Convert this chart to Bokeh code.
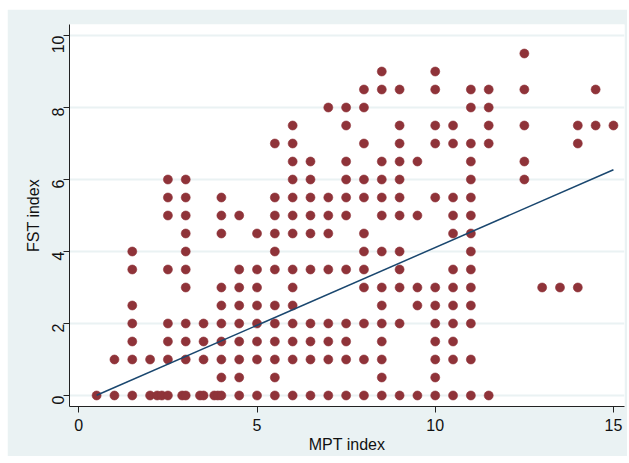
import math
from bokeh.plotting import figure
from bokeh.models import Range1d, FixedTicker, ColumnDataSource
from bokeh.embed import file_html
from bokeh.resources import INLINE

# ---- data ----
mpt = (
    [0.5]
    + [1.0] * 2
    + [1.5] * 7
    + [2.0] * 2
    + [2.2, 2.33]
    + [2.5] * 8
    + [2.9]
    + [3.0] * 11
    + [3.4]
    + [3.5] * 4
    + [3.8, 3.9]
    + [4.0] * 10
    + [4.5] * 9
    + [5.0] * 8
    + [5.5] * 12
    + [6.0] * 14
    + [6.5] * 10
    + [7.0] * 9
    + [7.5] * 11
    + [8.0] * 12
    + [8.5] * 14
    + [9.0] * 12
    + [9.5] * 5
    + [10.0] * 12
    + [10.5] * 12
    + [11.0] * 15
    + [11.5] * 5
    + [12.5] * 5
    + [13.0, 13.5]
    + [14.0] * 3
    + [14.5] * 2
    + [15.0]
)
fst = (
    [0]
    + [1, 0]
    + [4, 3.5, 2.5, 2, 1.5, 1, 0]
    + [1, 0]
    + [0, 0]
    + [6, 5.5, 5, 3.5, 2, 1.5, 1, 0]
    + [0]
    + [6, 5.5, 5, 4.5, 4, 3.5, 3, 2, 1.5, 1, 0]
    + [0]
    + [2, 1.5, 1, 0]
    + [0, 0]
    + [5.5, 5, 4.5, 3, 2.5, 2, 1.5, 1, 0.5, 0]
    + [5, 3.5, 3, 2.5, 2, 1.5, 1, 0.5, 0]
    + [4.5, 3.5, 3, 2.5, 2, 1.5, 1, 0]
    + [7, 5.5, 5, 4.5, 4, 3.5, 2.5, 2, 1.5, 1, 0.5, 0]
    + [7.5, 7, 6.5, 6, 5.5, 5, 4.5, 3.5, 3, 2.5, 2, 1.5, 1, 0]
    + [6.5, 6, 5.5, 5, 4.5, 3.5, 2, 1.5, 1, 0]
    + [8, 5.5, 5, 4.5, 3.5, 2, 1.5, 1, 0]
    + [8, 7.5, 6.5, 6, 5.5, 5, 3.5, 2, 1.5, 1, 0]
    + [8.5, 8, 7, 6, 5.5, 4.5, 4, 3.5, 3, 2, 1, 0]
    + [9, 8.5, 6.5, 6, 5.5, 5, 4, 3, 2.5, 2, 1.5, 1, 0.5, 0]
    + [8.5, 7.5, 7, 6.5, 6, 5.5, 5, 4, 3.5, 3, 2, 0]
    + [6.5, 5, 3, 2.5, 0]
    + [9, 8.5, 7.5, 7, 5.5, 3, 2.5, 2, 1.5, 1, 0.5, 0]
    + [7.5, 7, 5.5, 5, 4.5, 3.5, 3, 2.5, 2, 1.5, 1, 0]
    + [8.5, 8, 7, 6.5, 6, 5.5, 5, 4.5, 4, 3.5, 3, 2.5, 2, 1, 0]
    + [8.5, 8, 7.5, 7, 0]
    + [9.5, 8.5, 7.5, 6.5, 6]
    + [3, 3]
    + [7.5, 7, 3]
    + [8.5, 7.5]
    + [7.5]
)

# linear fit
fit_intercept = -0.21
fit_slope = 0.432

x_ticks = [0, 5, 10, 15]
y_ticks = [0, 2, 4, 6, 8, 10]
x_title = "MPT index"
y_title = "FST index"

# ---- styling ----
BG = "#EAF2F3"
DOT = "#8F3339"
LINE = "#1A476F"
FONT = "Liberation Sans"

p = figure(
    width=620, height=447,
    output_backend="svg", toolbar_location=None,
    x_range=Range1d(-0.261, 15.31), y_range=Range1d(-0.306, 10.306),
    min_border_left=62, min_border_right=3, min_border_top=15, min_border_bottom=50,
)
p.margin = (9, 0, 0, 7)
p.border_fill_color = BG
p.background_fill_color = "white"
p.outline_line_color = None

src = ColumnDataSource(dict(x=mpt, y=fst))
p.scatter("x", "y", source=src, size=9, fill_color=DOT, line_color=DOT, line_width=0.6)

fx = [min(mpt), max(mpt)]
fy = [fit_intercept + fit_slope * v for v in fx]
p.line(fx, fy, line_color=LINE, line_width=1.5)

p.xgrid.grid_line_color = None
p.ygrid.grid_line_color = BG
p.ygrid.grid_line_width = 2
p.ygrid.ticker = FixedTicker(ticks=y_ticks)

for ax in (p.xaxis[0], p.yaxis[0]):
    ax.axis_line_color = "#222222"
    ax.axis_line_width = 1
    ax.major_tick_line_color = "#222222"
    ax.major_tick_in = 0
    ax.major_tick_out = 6
    ax.minor_tick_line_color = None
    ax.major_label_text_font = FONT
    ax.major_label_text_font_size = "16px"
    ax.major_label_text_color = "#111111"
    ax.axis_label_text_font = FONT
    ax.axis_label_text_font_size = "16px"
    ax.axis_label_text_font_style = "normal"
    ax.axis_label_text_color = "#111111"

p.xaxis[0].ticker = FixedTicker(ticks=x_ticks)
p.yaxis[0].ticker = FixedTicker(ticks=y_ticks)
p.xaxis[0].axis_label = x_title
p.yaxis[0].axis_label = y_title
p.yaxis[0].major_label_orientation = math.pi / 2
p.xaxis[0].major_label_standoff = 6
p.xaxis[0].axis_label_standoff = 2
p.yaxis[0].major_label_standoff = 5
p.yaxis[0].axis_label_standoff = 2

open("out.html", "w").write(file_html(p, INLINE))
